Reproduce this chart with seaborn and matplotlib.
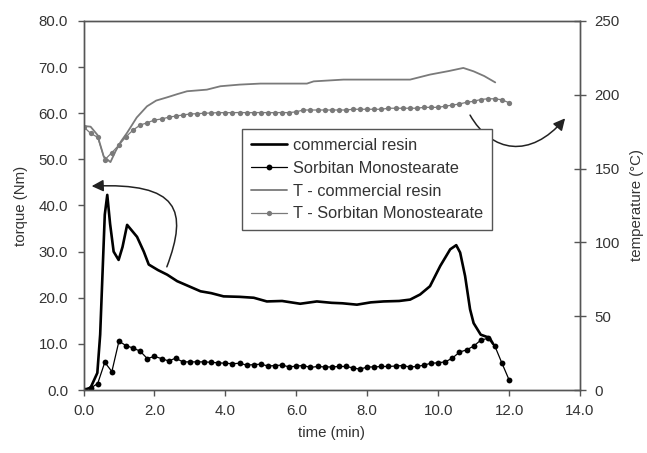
import numpy as np
import pandas as pd
import matplotlib
matplotlib.use("Agg")
import matplotlib.pyplot as plt
from matplotlib.path import Path
from matplotlib.patches import FancyArrowPatch
from matplotlib.ticker import FormatStrFormatter
import seaborn as sns

sns.set_theme(style="white")
plt.rcParams["font.family"] = ["Liberation Sans", "DejaVu Sans"]

# --- torque, commercial resin (Nm) ---
resin_time = [0, 0.2, 0.39, 0.47, 0.53, 0.6, 0.67, 0.75, 0.85, 0.99, 1.1, 1.23,
              1.51, 1.7, 1.84, 2.1, 2.36, 2.64, 3.0, 3.3, 3.6, 3.95, 4.4, 4.8,
              5.17, 5.6, 6.11, 6.58, 7.0, 7.3, 7.71, 8.1, 8.46, 8.9, 9.21, 9.49,
              9.77, 10.06, 10.34, 10.51, 10.62, 10.76, 10.9, 11.0, 11.2, 11.45, 11.55]
resin_torque = [0, 0.5, 3.7, 12, 24, 38, 42.3, 36, 30, 28.2, 31, 35.8,
                33.2, 30, 27.2, 26, 25, 23.6, 22.4, 21.4, 21.0, 20.3, 20.2, 20.0,
                19.2, 19.3, 18.7, 19.2, 18.9, 18.8, 18.5, 19.0, 19.2, 19.3, 19.6, 20.7,
                22.5, 26.9, 30.5, 31.4, 29.8, 24.7, 17.5, 14.5, 12.0, 11.3, 10.0]

# --- sampled every 0.2 min: sorbitan monostearate torque and temperatures ---
sorb_time = [0.0, 0.2, 0.4, 0.6, 0.8, 1.0, 1.2, 1.4, 1.6, 1.8,
             2.0, 2.2, 2.4, 2.6, 2.8, 3.0, 3.2, 3.4, 3.6, 3.8,
             4.0, 4.2, 4.4, 4.6, 4.8, 5.0, 5.2, 5.4, 5.6, 5.8,
             6.0, 6.2, 6.4, 6.6, 6.8, 7.0, 7.2, 7.4, 7.6, 7.8,
             8.0, 8.2, 8.4, 8.6, 8.8, 9.0, 9.2, 9.4, 9.6, 9.8,
             10.0, 10.2, 10.4, 10.6, 10.8, 11.0, 11.2, 11.4, 11.6, 11.8, 12.0]
sorb_torque = [0.0, 0.4, 1.4, 6.0, 4.0, 10.6, 9.6, 9.1, 8.4, 6.8,
               7.3, 6.8, 6.3, 6.9, 6.1, 6.1, 6.1, 6.1, 6.0, 5.9,
               5.8, 5.7, 5.8, 5.4, 5.5, 5.6, 5.2, 5.3, 5.4, 5.0,
               5.2, 5.3, 4.9, 5.1, 5.0, 5.0, 5.1, 5.1, 4.8, 4.5,
               5.0, 5.0, 5.1, 5.1, 5.2, 5.3, 5.0, 5.1, 5.4, 5.8,
               5.9, 6.1, 6.9, 8.2, 8.7, 9.5, 10.8, 11.2, 9.5, 5.8, 2.2]
sorb_temp = [178.4, 173.9, 171.2, 156.0, 160.8, 166.0, 171.6, 176.2, 179.5, 181.1,
             182.9, 183.6, 184.8, 185.6, 186.3, 187.0, 187.2, 187.5, 187.7, 187.9,
             187.9, 187.9, 188.0, 187.9, 187.9, 188.0, 187.9, 187.9, 188.0, 187.9,
             188.5, 189.7, 189.7, 189.7, 189.7, 189.7, 189.7, 189.7, 190.2, 190.2,
             190.2, 190.2, 190.2, 190.9, 190.9, 190.9, 190.9, 190.9, 191.5, 191.5,
             191.5, 192.3, 193.0, 193.8, 194.9, 195.6, 196.8, 197.3, 197.3, 196.6, 194.6]

# --- temperature, commercial resin (°C) ---
resin_t_time = [0, 0.2, 0.39, 0.57, 0.76, 0.9, 1.05, 1.23, 1.5, 1.79, 2.05, 2.36,
                2.65, 2.92, 3.48, 3.86, 4.4, 4.99, 5.92, 6.3, 6.49, 7.33, 8.3, 9.21,
                9.77, 10.3, 10.71, 11.0, 11.3, 11.61]
resin_temp = [178.9, 178.4, 172.9, 158.2, 154.4, 161.6, 168.2, 174.3, 184.6, 192.2,
              196.1, 198.3, 200.5, 202.4, 203.5, 205.8, 206.9, 207.6, 207.6, 207.6,
              209.1, 210.3, 210.3, 210.3, 213.7, 216.1, 218.2, 215.9, 212.7, 208.4]

x_ticks = [0, 2, 4, 6, 8, 10, 12, 14]
torque_ticks = [0, 10, 20, 30, 40, 50, 60, 70, 80]
temp_ticks = [0, 50, 100, 150, 200, 250]

resin = pd.DataFrame({"time": resin_time, "torque": resin_torque})
resin_t = pd.DataFrame({"time": resin_t_time, "temp": resin_temp})
sorb = pd.DataFrame({"time": sorb_time, "torque": sorb_torque, "temp": sorb_temp})

ink = "#333333"
grey = "#7a7a7a"

fig = plt.figure(figsize=(6.47, 4.53), dpi=100)
ax = fig.add_axes([83.5 / 647, 1 - 390 / 453, (580 - 83.5) / 647, (390 - 21) / 453])
ax2 = ax.twinx()

sns.lineplot(data=resin, x="time", y="torque", ax=ax, color="black",
             linewidth=1.9, estimator=None, sort=False, label="commercial resin")
sns.lineplot(data=sorb, x="time", y="torque", ax=ax, color="black",
             linewidth=0.9, marker="o", markersize=4.2, markeredgewidth=0,
             estimator=None, sort=False, label="Sorbitan Monostearate")
sns.lineplot(data=resin_t, x="time", y="temp", ax=ax2, color=grey,
             linewidth=1.3, estimator=None, sort=False, label="T - commercial resin")
sns.lineplot(data=sorb, x="time", y="temp", ax=ax2, color=grey,
             linewidth=0.9, marker="o", markersize=3.8, markeredgewidth=0,
             estimator=None, sort=False, label="T - Sorbitan Monostearate")

h1, l1 = ax.get_legend_handles_labels()
h2, l2 = ax2.get_legend_handles_labels()
for a in (ax, ax2):
    if a.get_legend() is not None:
        a.get_legend().remove()

ax.set_xlim(0, 14)
ax.set_ylim(0, 80)
ax2.set_ylim(0, 250)
ax.set_xticks(x_ticks)
ax.set_yticks(torque_ticks)
ax2.set_yticks(temp_ticks)
ax.xaxis.set_major_formatter(FormatStrFormatter("%.1f"))
ax.yaxis.set_major_formatter(FormatStrFormatter("%.1f"))

for a in (ax, ax2):
    for s in a.spines.values():
        s.set_color("#555555")
        s.set_linewidth(1.0)
    a.grid(False)

tick_fs = 10.8
ax.tick_params(axis="x", bottom=True, direction="out", length=4, width=1,
               color="#555555", labelsize=tick_fs, labelcolor=ink, pad=6)
ax.tick_params(axis="y", left=True, direction="out", length=4, width=1,
               color="#555555", labelsize=tick_fs, labelcolor=ink, pad=7)
ax2.tick_params(axis="y", right=True, direction="inout", length=9, width=1,
                color="#555555", labelsize=tick_fs, labelcolor=ink, pad=6)

ax.set_xlabel("time (min)", fontsize=tick_fs, color=ink, labelpad=6)
ax.set_ylabel("torque (Nm)", fontsize=tick_fs, color=ink, labelpad=8)
ax2.set_ylabel("temperature (°C)", fontsize=tick_fs, color=ink, labelpad=7)

# curved pointers tying each family of curves to its axis
left_curve = [(2.35, 26.7), (2.95, 39.0), (2.7, 45.0), (0.23, 44.2)]
right_curve = [(10.9, 59.6), (11.5, 51.5), (12.6, 50.0), (13.58, 58.9)]
codes = [Path.MOVETO, Path.CURVE4, Path.CURVE4, Path.CURVE4]
for pts in (left_curve, right_curve):
    arr = FancyArrowPatch(path=Path(pts, codes), arrowstyle="-|>,head_length=0.5,head_width=0.25",
                          mutation_scale=14, color="#222222", linewidth=1.1,
                          transform=ax.transData)
    ax.add_patch(arr)

leg = ax2.legend(h1 + h2, l1 + l2, loc="upper left", bbox_to_anchor=(0.319, 0.707),
                 borderaxespad=0, frameon=True, fancybox=False, fontsize=11.8,
                 handlelength=2.2, handletextpad=0.35, labelspacing=0.47,
                 borderpad=0.55, framealpha=1)
leg.get_frame().set_edgecolor("#555555")
leg.get_frame().set_linewidth(1.0)
for t in leg.get_texts():
    t.set_color(ink)

fig.savefig("out.png", dpi=100)
